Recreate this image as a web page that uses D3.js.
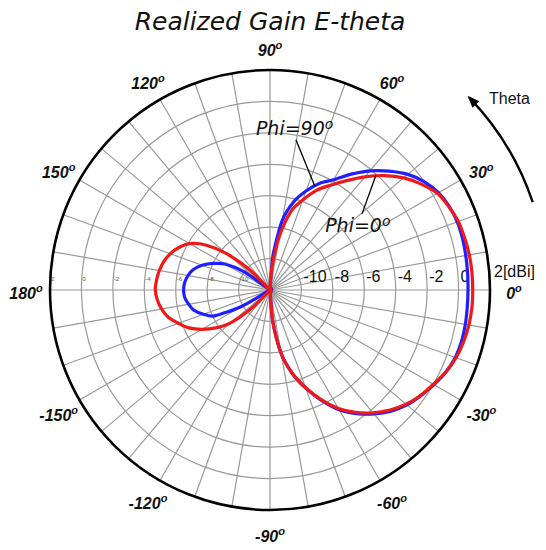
<!DOCTYPE html>
<html><head><meta charset="utf-8">
<script src="https://cdn.jsdelivr.net/npm/d3@7/dist/d3.min.js"></script>
<style>body{margin:0;background:#fff}svg{display:block}</style>
</head><body>
<svg id="chart" width="546" height="550"></svg>
<script>
// ---- data ----
const angles = [-180,-175,-170,-165,-160,-155,-150,-145,-140,-135,-130,-125,-120,-115,-110,-105,-100,-95,
  -90,-85,-80,-75,-70,-65,-60,-55,-50,-45,-40,-35,-30,-25,-20,-15,-10,-5,
  0,5,10,15,20,25,30,35,40,45,50,55,60,65,70,75,80,85,
  90,95,100,105,110,115,120,125,130,135,140,145,150,155,160,165,170,175];
const phi0Gain = [-4.7,-4.8,-5.0,-5.3,-5.8,-6.3,-7.0,-7.8,-8.8,-10.5,-12.5,-14,-14,-14,-14,-14,-14,-14,
  -14,-10,-7.9,-6.5,-5.4,-4.3,-3.3,-2.5,-1.8,-1.2,-0.7,-0.3,0.0,0.35,0.6,0.75,0.85,0.9,
  0.9,0.9,0.88,0.82,0.75,0.55,0.3,-0.25,-0.9,-1.7,-2.6,-3.5,-4.3,-5.0,-5.9,-6.8,-8.5,-10.5,
  -14,-14,-14,-14,-14,-14,-14,-14,-12,-10.2,-8.4,-7.0,-6.1,-5.6,-5.25,-5.0,-4.85,-4.75];
const phi90Gain = [-6.5,-6.55,-6.75,-7.0,-7.5,-8.1,-9.9,-14,-14,-14,-14,-14,-14,-14,-14,-14,-14,-14,
  -14,-10,-7.9,-6.5,-5.35,-4.25,-3.2,-2.4,-1.7,-1.1,-0.62,-0.28,0.05,0.35,0.55,0.62,0.62,0.6,
  0.6,0.62,0.65,0.68,0.68,0.58,0.38,0.0,-0.55,-1.3,-2.1,-3.0,-3.9,-4.5,-5.3,-6.2,-7.5,-9.8,
  -14,-14,-14,-14,-14,-14,-14,-14,-14,-14,-14,-10,-8.7,-8.0,-7.4,-6.95,-6.7,-6.55];
const ringValues = [-10,-8,-6,-4,-2,0];
const outerValue = 2;
const bigRadialLabels = ["-10","-8","-6","-4","-2","0"];
const smallRadialValues = [2,0,-2,-4,-6,-8,-10];
const angleTicks = [0,30,60,90,120,150,180,-150,-120,-90,-60,-30];
const angleTickLabels = ["0","30","60","90","120","150","180","-150","-120","-90","-60","-30"];
const seriesNames = ["Phi=0","Phi=90"];
const titleText = "Realized Gain E-theta";

// ---- layout ----
const svg = d3.select("#chart");
const cx = 270, cy = 290;
const r = d3.scaleLinear().domain([-12, 2]).range([0, 220]).clamp(true);
const rad = d => d * Math.PI / 180;
const px = (deg, rr) => cx + rr * Math.cos(rad(deg));
const py = (deg, rr) => cy - rr * Math.sin(rad(deg));

svg.append("text").attr("x", 270).attr("y", 30).attr("text-anchor", "middle")
  .attr("font-family", "DejaVu Sans").attr("font-style", "italic").attr("font-size", 25)
  .attr("fill", "#111").text(titleText);

const g = svg.append("g");
const grid = "#999";
// spokes every 10 degrees
g.selectAll("line.spoke").data(d3.range(0, 360, 10)).join("line")
  .attr("x1", cx).attr("y1", cy)
  .attr("x2", d => px(d, r(outerValue))).attr("y2", d => py(d, r(outerValue)))
  .attr("stroke", grid).attr("stroke-width", 1.2);
// rings
g.selectAll("circle.ring").data(ringValues).join("circle")
  .attr("cx", cx).attr("cy", cy).attr("r", d => r(d))
  .attr("fill", "none").attr("stroke", grid).attr("stroke-width", 1.2);
g.append("circle").attr("cx", cx).attr("cy", cy).attr("r", r(outerValue))
  .attr("fill", "none").attr("stroke", "#000").attr("stroke-width", 2.6);

// radial labels (big, right side)
g.selectAll("text.rl").data(ringValues).join("text")
  .attr("x", d => cx + r(d) + 2).attr("y", cy - 8)
  .attr("font-family", "Liberation Sans").attr("font-size", 16).attr("fill", "#111")
  .text((d, i) => bigRadialLabels[i]);
g.append("text").attr("x", cx + r(outerValue) + 4).attr("y", cy - 13)
  .attr("font-family", "Liberation Sans").attr("font-size", 16).attr("fill", "#111")
  .text(outerValue + "[dBi]");
// small labels (left side)
g.selectAll("text.sl").data(smallRadialValues).join("text")
  .attr("x", d => cx - r(d) + 1).attr("y", cy - 9)
  .attr("font-family", "Liberation Sans").attr("font-size", 6).attr("fill", "#555")
  .text(d => d);

// angle labels
const al = g.selectAll("text.al").data(angleTicks).join("text")
  .attr("x", d => px(d, 244)).attr("y", d => py(d, 243) + 9)
  .attr("text-anchor", "middle")
  .attr("font-family", "Liberation Sans").attr("font-weight", "bold").attr("font-style", "italic")
  .attr("font-size", 16).attr("fill", "#111");
al.append("tspan").text((d, i) => angleTickLabels[i]);
al.append("tspan").attr("font-size", 11).attr("dy", -7).text("o");

// curves
const line = d3.lineRadial()
  .angle(d => rad(90 - d[0]))
  .radius(d => r(d[1]))
  .curve(d3.curveCardinalClosed.tension(0.2));
const plot = g.append("g").attr("transform", `translate(${cx},${cy})`);
plot.append("path").datum(angles.map((a, i) => [a, phi90Gain[i]]))
  .attr("d", line).attr("fill", "none").attr("stroke", "#1f1fff").attr("stroke-width", 3.2);
plot.append("path").datum(angles.map((a, i) => [a, phi0Gain[i]]))
  .attr("d", line).attr("fill", "none").attr("stroke", "#f01818").attr("stroke-width", 3.2);

// annotations (polar positions)
const ann = [
  {name: seriesNames[1], tx: 95.2, tv: -2.1, lx: 80.2, lv: -2.3, ex: 66.8, series: phi90Gain},
  {name: seriesNames[0], tx: 46.5, tv: -6.9, lx: 39.6, lv: -4.4, ex: 47.2, series: phi0Gain}
];
ann.forEach(a => {
  const idx = d3.bisectLeft(angles, a.ex);
  const a0 = angles[idx - 1], a1 = angles[idx];
  const v = a.series[idx - 1] + (a.series[idx] - a.series[idx - 1]) * (a.ex - a0) / (a1 - a0);
  g.append("line")
    .attr("x1", px(a.lx, r(a.lv))).attr("y1", py(a.lx, r(a.lv)))
    .attr("x2", px(a.ex, r(v))).attr("y2", py(a.ex, r(v)))
    .attr("stroke", "#000").attr("stroke-width", 1.3);
  const t = g.append("text").attr("x", px(a.tx, r(a.tv))).attr("y", py(a.tx, r(a.tv)))
    .attr("font-family", "DejaVu Sans").attr("font-style", "italic").attr("font-size", 19).attr("fill", "#111");
  t.append("tspan").text(a.name);
  t.append("tspan").attr("font-size", 14).attr("dy", -6).text("o");
});

// Theta arrow
svg.append("defs").append("marker").attr("id", "ah")
  .attr("viewBox", "0 0 10 10").attr("refX", 8).attr("refY", 5)
  .attr("markerWidth", 5).attr("markerHeight", 5).attr("orient", "auto")
  .append("path").attr("d", "M0,1 L10,5 L0,9 Z").attr("fill", "#000");
const p = d3.path();
p.arc(cx, cy, 277, rad(-18.5), rad(-44), true);
svg.append("path").attr("d", p.toString()).attr("fill", "none").attr("stroke", "#000")
  .attr("stroke-width", 2.4).attr("marker-end", "url(#ah)");
svg.append("text").attr("x", 489).attr("y", 104)
  .attr("font-family", "Liberation Sans").attr("font-size", 16).attr("fill", "#111").text("Theta");
</script>
</body></html>
